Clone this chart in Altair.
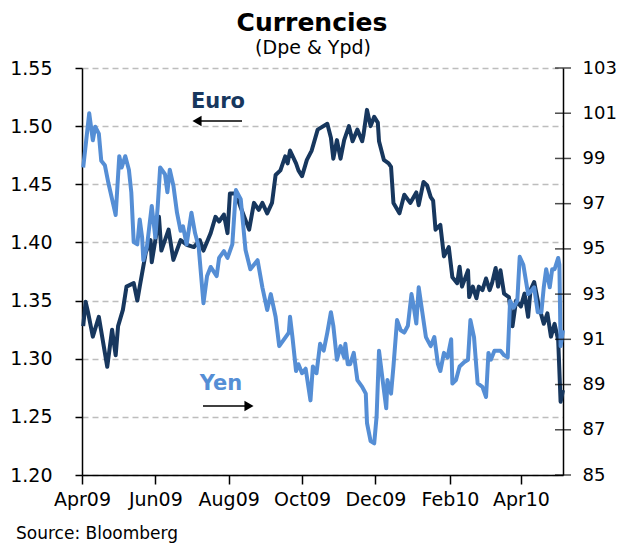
import altair as alt
import pandas as pd

# ---------------- data ----------------
START = "2009-04-01"
END = (2010, 5, 6)

# days after START, EUR/USD
EURO_DAYS = [1, 3, 5, 9, 14, 21, 25, 28, 30, 34, 37, 43, 46, 48, 53, 57, 58, 61, 64, 66,
             72, 76, 82, 87, 93, 98, 101, 107, 111, 114, 118, 121, 123, 128, 132, 139, 143, 147, 150, 154,
             158, 161, 165, 169, 171, 173, 178, 180, 183, 187, 191, 196, 204, 207, 209, 212, 215, 218, 222, 225,
             229, 233, 234, 237, 240, 243, 246, 247, 251, 255, 257, 259, 264, 268, 273, 278, 280, 284, 287, 290,
             292, 294, 298, 301, 305, 308, 312, 314, 316, 321, 322, 325, 328, 330, 333, 336, 339, 341, 344, 346,
             348, 351, 355, 358, 361, 365, 368, 371, 373, 376, 380, 384, 387, 390, 393, 396, 398, 400]
EURO_VALUES = [1.328, 1.349, 1.340, 1.319, 1.336, 1.293, 1.325, 1.303, 1.328, 1.342,
               1.362, 1.365, 1.350, 1.362, 1.391, 1.402, 1.383, 1.402, 1.422, 1.393,
               1.411, 1.385, 1.402, 1.398, 1.396, 1.402, 1.393, 1.408, 1.422, 1.418,
               1.424, 1.408, 1.442, 1.442, 1.430, 1.411, 1.434, 1.428, 1.434, 1.425,
               1.434, 1.458, 1.462, 1.474, 1.468, 1.479, 1.468, 1.462, 1.457, 1.471,
               1.479, 1.497, 1.502, 1.490, 1.472, 1.488, 1.472, 1.488, 1.500, 1.487,
               1.497, 1.487, 1.492, 1.514, 1.500, 1.508, 1.503, 1.487, 1.471, 1.468,
               1.465, 1.434, 1.425, 1.441, 1.434, 1.443, 1.432, 1.452, 1.449, 1.439,
               1.436, 1.411, 1.415, 1.388, 1.396, 1.370, 1.365, 1.379, 1.362, 1.376,
               1.353, 1.362, 1.352, 1.362, 1.359, 1.369, 1.359, 1.365, 1.378, 1.362,
               1.376, 1.356, 1.353, 1.328, 1.350, 1.345, 1.356, 1.336, 1.359, 1.366,
               1.345, 1.330, 1.339, 1.319, 1.330, 1.316, 1.263, 1.273]

# days after START, USD/JPY
YEN_DAYS = [1, 6, 9, 11, 14, 16, 19, 22, 25, 28, 31, 33, 36, 39, 41, 43, 46, 48, 50, 51,
            54, 58, 61, 63, 65, 69, 71, 73, 76, 79, 82, 84, 87, 91, 94, 97, 101, 104, 107, 112,
            114, 118, 121, 125, 128, 132, 136, 140, 143, 146, 150, 154, 157, 161, 164, 168, 172, 173, 175, 178,
            180, 183, 186, 190, 192, 195, 198, 201, 204, 207, 209, 212, 215, 218, 219, 221, 223, 226, 229, 233,
            236, 237, 240, 243, 245, 247, 250, 253, 254, 257, 259, 262, 265, 268, 271, 274, 276, 278, 280, 283,
            286, 289, 290, 293, 296, 298, 301, 304, 307, 308, 311, 314, 318, 321, 323, 326, 329, 333, 336, 338,
            340, 343, 348, 351, 354, 356, 359, 362, 364, 367, 371, 373, 376, 379, 382, 384, 386, 389, 391, 393,
            396, 397, 398, 400]
YEN_VALUES = [98.6, 101.0, 99.8, 100.4, 100.1, 98.9, 98.7, 97.9, 97.2, 96.5,
              99.1, 98.6, 99.1, 98.5, 97.5, 95.3, 95.2, 96.3, 95.5, 94.5,
              95.1, 96.9, 95.5, 96.9, 98.6, 98.3, 97.5, 98.5, 97.8, 96.6,
              95.8, 96.0, 95.2, 96.6, 95.7, 95.1, 92.6, 93.8, 94.2, 93.8,
              94.6, 94.9, 94.6, 95.2, 97.6, 97.2, 94.95, 94.1, 94.3, 94.5,
              93.3, 92.3, 93.0, 92.0, 90.7, 91.0, 91.3, 92.0, 91.1, 89.6,
              89.9, 89.5, 89.7, 88.3, 89.8, 89.5, 90.8, 90.5, 91.3, 92.2,
              91.6, 90.1, 90.7, 90.2, 90.8, 89.9, 89.9, 90.4, 89.2, 88.9,
              88.6, 87.3, 86.5, 86.4, 87.6, 90.5, 89.2, 87.95, 89.2, 88.6,
              89.8, 91.85, 91.4, 91.3, 91.6, 93.0, 92.4, 91.7, 93.3, 92.2,
              91.1, 90.8, 90.7, 91.1, 89.9, 89.6, 90.4, 90.2, 91.0, 89.05,
              89.2, 89.8, 90.0, 90.1, 91.85, 91.1, 89.05, 88.9, 88.45, 90.4,
              90.1, 90.5, 90.5, 90.3, 90.2, 92.7, 92.4, 92.7, 94.65, 94.3,
              93.0, 93.1, 93.3, 92.2, 92.2, 93.3, 94.1, 93.3, 94.1, 94.1,
              94.6, 94.3, 90.7, 91.4]

EURO_TICKS = [1.20, 1.25, 1.30, 1.35, 1.40, 1.45, 1.50, 1.55]
YEN_TICKS = [85, 87, 89, 91, 93, 95, 97, 99, 101, 103]
MONTH_TICKS = [(2009, 4), (2009, 6), (2009, 8), (2009, 10), (2009, 12), (2010, 2), (2010, 4)]

TITLE = "Currencies"
SUBTITLE = "(Dpe & Ypd)"
SOURCE = "Source: Bloomberg"
EURO_LABEL = "Euro"
YEN_LABEL = "Yen"

# ---------------- styling ----------------
FONT = "DejaVu Sans"
EURO_C = "#17375E"
YEN_C = "#558ED5"
W, H = 481, 407


def to_dates(days):
    base = pd.Timestamp(START)
    return [(base + pd.Timedelta(days=d)).strftime("%Y-%m-%d") for d in days]


euro_df = pd.DataFrame({"date": to_dates(EURO_DAYS), "euro": EURO_VALUES})
yen_df = pd.DataFrame({"date": to_dates(YEN_DAYS), "yen": YEN_VALUES})
yen_ticks_df = pd.DataFrame({"yen": YEN_TICKS})
one = pd.DataFrame({"k": [0]})

s = pd.Timestamp(START)
x_enc = alt.X(
    "date:T",
    scale=alt.Scale(
        type="utc",
        domain=[alt.DateTime(year=s.year, month=s.month, date=s.day, utc=True),
                alt.DateTime(year=END[0], month=END[1], date=END[2], utc=True)],
    ),
    axis=alt.Axis(
        values=[alt.DateTime(year=y, month=m, date=1, utc=True) for y, m in MONTH_TICKS],
        format="%b%y", title=None, grid=False, labelFlush=False, labelOverlap=False,
        labelFont=FONT, labelFontSize=19, labelColor="black", labelPadding=6,
        tickSize=9, tickColor="black", tickWidth=1.5,
        domainColor="black", domainWidth=1.5,
    ),
)

euro_line = alt.Chart(euro_df).mark_line(color=EURO_C, strokeWidth=4, strokeJoin="round").encode(
    x=x_enc,
    y=alt.Y(
        "euro:Q",
        scale=alt.Scale(domain=[EURO_TICKS[0], EURO_TICKS[-1]], nice=False, zero=False),
        axis=alt.Axis(
            orient="left", values=EURO_TICKS, format=".2f", title=None,
            grid=True, gridColor="#bdbdbd", gridDash=[6, 4], gridWidth=1.3,
            tickSize=7, tickColor="black", tickWidth=1.5,
            domainColor="black", domainWidth=1.5,
            labelFont=FONT, labelFontSize=19, labelColor="black", labelPadding=23,
        ),
    ),
)

yen_scale = alt.Scale(domain=[YEN_TICKS[0], YEN_TICKS[-1]], nice=False, zero=False)
yen_axis = alt.Axis(
    orient="right", values=YEN_TICKS, format="d", title=None, grid=False,
    ticks=False, domainColor="black", domainWidth=1.5,
    labelFont=FONT, labelFontSize=18, labelColor="black", labelPadding=19,
)
yen_line = alt.Chart(yen_df).mark_line(color=YEN_C, strokeWidth=4, strokeJoin="round").encode(
    x=x_enc,
    y=alt.Y("yen:Q", scale=yen_scale, axis=yen_axis),
)
yen_tickmarks = alt.Chart(yen_ticks_df).mark_tick(
    orient="horizontal", color="black", thickness=1.5, size=16
).encode(x=alt.value(W), y=alt.Y("yen:Q", scale=yen_scale, axis=yen_axis))

yen_group = alt.layer(yen_line, yen_tickmarks)


def label(text, x, y, size, color="black", weight="normal", align="center"):
    return alt.Chart(one).mark_text(
        text=text, font=FONT, fontSize=size, fontWeight=weight, color=color,
        align=align, baseline="alphabetic",
    ).encode(x=alt.value(x), y=alt.value(y))


def arrow(x1, x2, y, head_x, shape):
    rule = alt.Chart(one).mark_rule(color="black", strokeWidth=1.5).encode(
        x=alt.value(x1), x2=alt.value(x2), y=alt.value(y))
    head = alt.Chart(one).mark_point(shape=shape, filled=True, color="black", opacity=1, size=110).encode(
        x=alt.value(head_x), y=alt.value(y))
    return rule + head


title = label(TITLE, 230, -37, 25, weight="bold")
subtitle = label(SUBTITLE, 231, -14, 19)
source = label(SOURCE, -66, 471, 17, align="left")
euro_lbl = label(EURO_LABEL, 136, 40, 21, color=EURO_C, weight="bold")
yen_lbl = label(YEN_LABEL, 139, 322, 21, color=YEN_C, weight="bold")
euro_arrow = arrow(113, 160, 53, 115, "triangle-left")
yen_arrow = arrow(121, 168, 338, 167, "triangle-right")

chart = alt.layer(
    euro_line, yen_group, title, subtitle, source, euro_lbl, yen_lbl, euro_arrow, yen_arrow
).resolve_scale(y="independent").properties(
    width=W, height=H,
    autosize=alt.AutoSizeParams(type="none"),
    padding={"left": 74, "top": 60, "right": 54, "bottom": 74},
).configure_view(stroke=None)

chart.save("out.html", embed_options={"renderer": "svg", "actions": False})
